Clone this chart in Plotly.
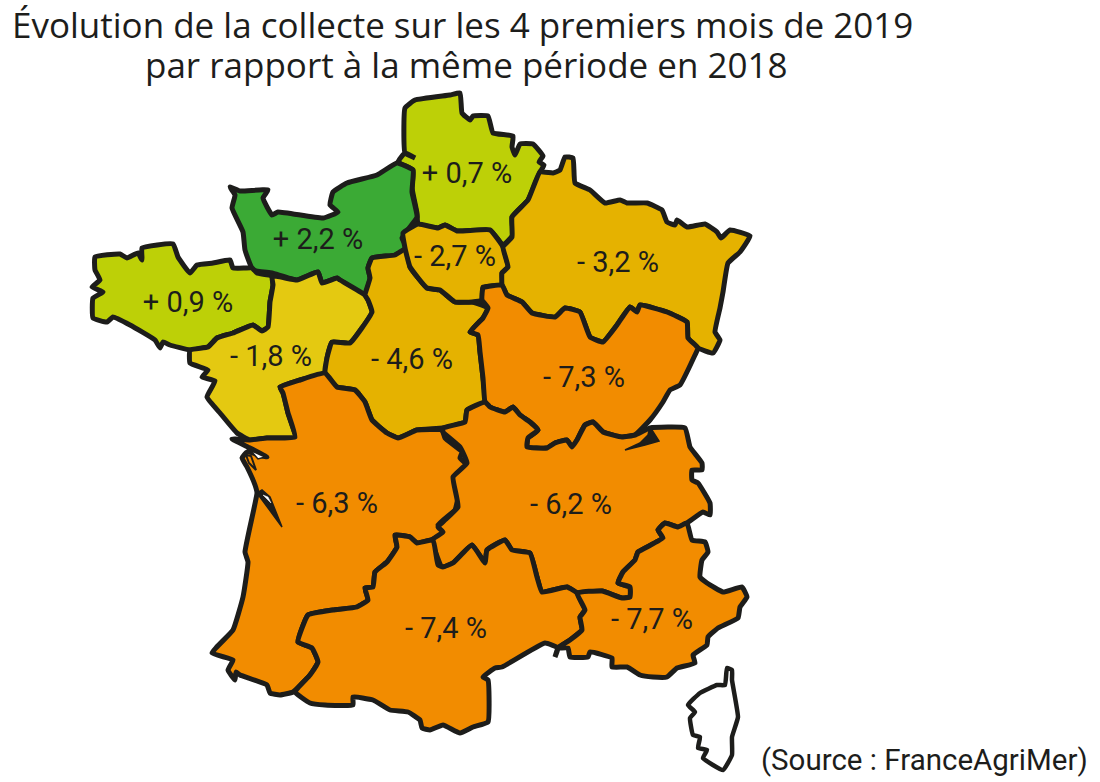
import plotly.graph_objects as go

TITLE_LINES = ["Évolution de la collecte sur les 4 premiers mois de 2019", "par rapport à la même période en 2018"]
TITLE_X = [462, 466]
TITLE_Y = [24, 64]
SOURCE = "(Source : FranceAgriMer)"

regions = ["Hauts-de-France", "Normandie", "Bretagne", "Pays de la Loire", "Centre-Val de Loire",
           "Île-de-France", "Grand Est", "Bourgogne-Franche-Comté", "Nouvelle-Aquitaine",
           "Auvergne-Rhône-Alpes", "Occitanie", "PACA"]
labels = ["+ 0,7 %", "+ 2,2 %", "+ 0,9 %", "- 1,8 %", "- 4,6 %", "- 2,7 %", "- 3,2 %", "- 7,3 %",
          "- 6,3 %", "- 6,2 %", "- 7,4 %", "- 7,7 %"]
label_x = [467, 318, 188, 271, 412, 455, 618, 584, 337, 571, 446, 652]
label_y = [176, 242, 305, 359, 362, 259, 265, 380, 506, 507, 631, 622]
colors = ["#BDD007", "#3BAA35", "#BDD007", "#E4C911", "#E5B200", "#E5B200", "#E5B200", "#F28C00",
          "#F28C00", "#F28C00", "#F28C00", "#F28C00"]

hdf = [(405,108),(415,100),(450,95),(460,93),(462,113),(470,120),(473,116),(488,116),(493,133),(513,136),(512,147),(515,155),(520,144),(533,144),(543,156),(539,162),(544,165),(540,172),(528,200),(512,217),(513,235),(503,245),(490,230),(457,231),(445,225),(438,228),(418,224),(417,213),(412,188),(413,170),(398,162),(405,153),(415,158),(405,153)]
normandie = [(230,187),(240,191),(268,190),(263,198),(272,215),(278,212),(323,218),(338,212),(330,205),(333,192),(347,183),(377,175),(397,163),(413,170),(412,192),(417,217),(402,238),(407,248),(395,255),(372,258),(368,268),(370,278),(365,295),(340,280),(337,278),(322,283),(318,272),(297,280),(272,273),(253,270),(245,250),(243,232),(232,208),(235,195)]
bretagne = [(95,257),(120,254),(127,258),(138,253),(142,260),(142,248),(173,244),(178,257),(190,273),(197,265),(213,263),(230,260),(233,268),(252,268),(257,273),(272,276),(273,285),(270,302),(268,327),(262,331),(253,325),(233,333),(217,338),(208,347),(190,350),(170,345),(163,342),(160,348),(155,340),(130,325),(113,317),(107,322),(93,318),(93,298),(103,292),(92,287),(100,280),(95,270)]
pdl = [(272,276),(273,285),(270,302),(268,327),(262,331),(253,325),(233,333),(217,338),(208,347),(190,350),(190,363),(208,370),(202,377),(215,381),(207,397),(220,413),(237,433),(250,440),(267,438),(295,437),(288,413),(283,393),(280,387),(300,380),(325,373),(327,358),(332,342),(350,343),(372,312),(368,300),(365,295),(340,280),(337,278),(322,283),(318,272),(297,280)]
centre = [(365,295),(370,278),(368,268),(372,258),(395,255),(407,248),(410,267),(427,288),(440,290),(455,302),(472,302),(488,308),(483,318),(470,332),(478,335),(480,352),(483,378),(485,402),(467,410),(465,422),(443,428),(417,430),(398,438),(387,433),(372,420),(365,402),(355,390),(337,387),(325,373),(327,358),(332,342),(350,343),(372,312),(368,300)]
idf = [(403,233),(418,224),(438,228),(445,225),(457,231),(490,230),(503,247),(508,267),(502,273),(503,285),(483,287),(482,300),(472,302),(455,302),(440,290),(427,288),(410,267),(405,248)]
grand_est = [(540,172),(553,173),(560,170),(565,157),(573,158),(575,183),(590,190),(605,203),(620,200),(627,203),(647,203),(662,210),(667,222),(675,225),(677,220),(687,227),(705,224),(717,232),(721,238),(730,230),(750,236),(740,252),(728,263),(723,292),(720,308),(715,332),(720,340),(713,353),(698,348),(688,338),(687,322),(667,312),(640,305),(637,312),(630,307),(617,325),(603,342),(590,337),(580,312),(565,308),(555,317),(532,313),(522,302),(507,295),(502,285),(502,273),(508,267),(503,247),(512,237),(512,217),(528,200)]
bfc = [(483,288),(502,285),(507,295),(522,302),(532,313),(555,317),(565,308),(580,312),(590,337),(603,342),(617,325),(630,307),(637,312),(640,305),(667,312),(687,322),(688,338),(698,348),(695,355),(680,385),(670,390),(663,402),(650,420),(635,435),(622,437),(603,432),(593,422),(585,425),(577,440),(572,447),(567,440),(555,443),(547,448),(527,447),(528,438),(538,430),(530,422),(520,415),(513,407),(505,412),(490,407),(485,402),(483,378),(480,352),(478,335),(470,332),(483,318),(488,308),(482,300)]
naq = [(295,437),(288,413),(283,393),(280,387),(300,380),(325,373),(337,387),(355,390),(365,402),(372,420),(387,433),(398,438),(417,430),(442,430),(445,438),(462,452),(460,458),(467,465),(455,477),(458,497),(455,510),(438,525),(445,532),(433,539),(417,543),(410,537),(395,535),(397,547),(387,562),(375,572),(373,587),(365,588),(368,600),(357,607),(333,610),(308,615),(298,642),(312,648),(318,662),(310,675),(293,692),(280,695),(270,693),(267,685),(240,675),(236,672),(235,680),(228,670),(233,660),(212,653),(233,630),(243,597),(248,562),(245,552),(257,493),(255,485),(247,467),(242,458),(247,452),(267,457),(250,448),(232,439),(250,440),(267,438)]
aura = [(443,428),(465,422),(467,410),(485,402),(490,407),(505,412),(513,407),(520,415),(530,422),(538,430),(528,438),(527,447),(547,448),(555,443),(567,440),(572,447),(577,440),(585,425),(593,422),(603,432),(622,437),(635,435),(650,428),(685,428),(690,447),(702,463),(702,470),(692,470),(692,480),(698,483),(710,503),(710,515),(703,512),(687,523),(678,527),(665,523),(658,530),(663,538),(638,552),(635,560),(623,572),(618,583),(630,587),(630,597),(622,598),(602,591),(577,593),(567,587),(542,592),(537,577),(530,553),(512,550),(505,540),(487,550),(485,563),(472,545),(453,563),(442,567),(432,540),(443,532),(438,527),(458,507),(453,477),(467,463),(460,447),(443,432)]
occitanie = [(295,692),(310,675),(318,662),(312,648),(298,642),(308,615),(333,610),(357,607),(368,600),(365,588),(373,587),(375,572),(387,562),(397,547),(395,535),(410,537),(417,543),(433,540),(438,565),(443,567),(453,563),(472,545),(485,563),(487,550),(505,540),(512,550),(530,553),(537,577),(542,592),(567,587),(577,593),(585,610),(580,617),(582,630),(570,640),(558,648),(555,657),(558,648),(545,643),(502,667),(495,668),(483,677),(488,680),(488,722),(473,727),(460,733),(443,725),(430,730),(422,728),(420,720),(408,712),(390,710),(373,700),(353,697),(353,705),(325,705),(310,703)]
paca = [(577,593),(602,591),(622,598),(630,597),(630,587),(618,583),(623,572),(635,560),(638,552),(663,538),(658,530),(665,523),(678,527),(687,523),(692,540),(705,542),(708,552),(702,560),(700,577),(707,583),(723,592),(742,587),(747,597),(740,607),(738,618),(718,628),(708,637),(707,645),(693,655),(695,663),(677,668),(667,677),(653,677),(640,675),(627,667),(612,667),(612,658),(590,652),(588,657),(570,657),(568,648),(558,648),(570,640),(582,630),(580,617),(585,610)]
corse = [(727,668),(732,670),(732,680),(738,717),(732,737),(732,755),(723,770),(703,758),(707,750),(698,748),(700,737),(693,735),(690,718),(695,712),(688,705),(700,693),(717,685),(725,685)]
lac_leman = [(650,427),(659,441),(645,445),(625,450),(640,443),(648,435)]
gironde = [(257,493),(282,527),(270,497),(262,490)]
gironde_clair = [(263,495),(271,503),(268,497)]
oleron = [(246,455),(251,456),(256,470),(249,463)]
re_clair = [(250,450),(265,457),(258,459)]

outlines = [hdf, normandie, bretagne, pdl, centre, idf, grand_est, bfc, naq, aura, occitanie, paca]
INK = "#1D1D1B"

fig = go.Figure()
def poly(pts, fill, name, width=5, line=INK, smooth=0.35):
    xs = [p[0] for p in pts] + [pts[0][0]]
    ys = [p[1] for p in pts] + [pts[0][1]]
    shape = "spline" if smooth else "linear"
    fig.add_trace(go.Scatter(x=xs, y=ys, mode="lines", fill="toself", fillcolor=fill, name=name,
                             line=dict(color=line, width=width, shape=shape, smoothing=smooth or 1),
                             hoverinfo="name", showlegend=False))

for r, o, c in zip(regions, outlines, colors):
    poly(o, c, r)
poly(corse, "#FFFFFF", "Corse", 4.5)
poly(lac_leman, INK, "Léman", 1.5, smooth=0)
poly(gironde, INK, "Gironde", 1.5, smooth=0)
poly(gironde_clair, "#FFFFFF", "Gironde", 0.5, "#FFFFFF", smooth=0)
poly(re_clair, "#FFFFFF", "Ré", 1.5, smooth=0)
poly(oleron, "#F28C00", "Oléron", 2, smooth=0)

fig.add_trace(go.Scatter(x=label_x, y=label_y, mode="text", text=labels, hoverinfo="skip", showlegend=False,
                         textposition="middle center",
                         textfont=dict(family="Roboto", size=29, color=INK)))

annotations = [dict(text=t, x=x, y=y, xref="x", yref="y", xanchor="center", yanchor="middle", showarrow=False,
                    font=dict(family="Open Sans", size=35, color=INK))
               for t, x, y in zip(TITLE_LINES, TITLE_X, TITLE_Y)]
annotations.append(dict(text=SOURCE, x=1090, y=760, xref="x", yref="y", xanchor="right", yanchor="middle",
                        showarrow=False, font=dict(family="Roboto", size=29.5, color=INK)))

fig.update_layout(
    width=1100, height=782, margin=dict(l=0, r=0, t=0, b=0),
    paper_bgcolor="#FFFFFF", plot_bgcolor="#FFFFFF",
    xaxis=dict(range=[0, 1100], visible=False, fixedrange=True),
    yaxis=dict(range=[782, 0], visible=False, fixedrange=True),
    annotations=annotations,
)
fig.write_html("out.html", config=dict(displayModeBar=False),
               post_script="document.body.style.margin='0';")
